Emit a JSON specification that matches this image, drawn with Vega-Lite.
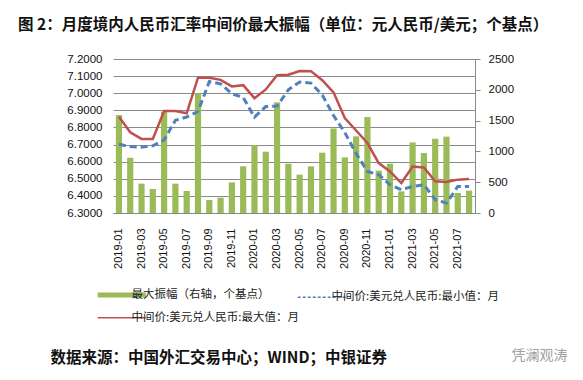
{
  "$schema": "https://vega.github.io/schema/vega-lite/v6.json",
  "width": 362,
  "height": 154,
  "autosize": "none",
  "padding": {"left": 113, "top": 59, "right": 108, "bottom": 167},
  "background": "white",
  "title": {
    "text": "图 2：月度境内人民币汇率中间价最大振幅（单位：元人民币/美元；个基点）",
    "anchor": "start",
    "frame": "group",
    "dx": -95,
    "offset": 20,
    "font": "Noto Sans CJK SC",
    "fontSize": 15.5,
    "fontWeight": "bold",
    "color": "#111"
  },
  "config": {
    "view": {"stroke": null},
    "axis": {"labelFont": "Liberation Sans", "labelColor": "#111"}
  },
  "data": {
    "values": [
      {"month": "2019-01", "amp": 1590, "min": 6.702, "max": 6.862},
      {"month": "2019-02", "amp": 898, "min": 6.688, "max": 6.772},
      {"month": "2019-03", "amp": 476, "min": 6.685, "max": 6.733},
      {"month": "2019-04", "amp": 390, "min": 6.693, "max": 6.733},
      {"month": "2019-05", "amp": 1645, "min": 6.727, "max": 6.896},
      {"month": "2019-06", "amp": 476, "min": 6.842, "max": 6.896},
      {"month": "2019-07", "amp": 357, "min": 6.861, "max": 6.883},
      {"month": "2019-08", "amp": 1943, "min": 6.893, "max": 7.091},
      {"month": "2019-09", "amp": 211, "min": 7.068, "max": 7.091},
      {"month": "2019-10", "amp": 249, "min": 7.055, "max": 7.078},
      {"month": "2019-11", "amp": 497, "min": 6.997, "max": 7.04},
      {"month": "2019-12", "amp": 757, "min": 6.975, "max": 7.047},
      {"month": "2020-01", "amp": 1104, "min": 6.86, "max": 6.971},
      {"month": "2020-02", "amp": 995, "min": 6.922, "max": 7.022},
      {"month": "2020-03", "amp": 1796, "min": 6.925, "max": 7.105},
      {"month": "2020-04", "amp": 800, "min": 7.02, "max": 7.108},
      {"month": "2020-05", "amp": 622, "min": 7.065, "max": 7.13},
      {"month": "2020-06", "amp": 757, "min": 7.059, "max": 7.129},
      {"month": "2020-07", "amp": 979, "min": 6.99, "max": 7.076},
      {"month": "2020-08", "amp": 1373, "min": 6.87, "max": 7.005},
      {"month": "2020-09", "amp": 903, "min": 6.77, "max": 6.855},
      {"month": "2020-10", "amp": 1244, "min": 6.648, "max": 6.782},
      {"month": "2020-11", "amp": 1558, "min": 6.543, "max": 6.709},
      {"month": "2020-12", "amp": 687, "min": 6.524, "max": 6.592},
      {"month": "2021-01", "amp": 800, "min": 6.465, "max": 6.543},
      {"month": "2021-02", "amp": 351, "min": 6.436, "max": 6.475},
      {"month": "2021-03", "amp": 1146, "min": 6.455, "max": 6.572},
      {"month": "2021-04", "amp": 974, "min": 6.465, "max": 6.566},
      {"month": "2021-05", "amp": 1206, "min": 6.378, "max": 6.485},
      {"month": "2021-06", "amp": 1239, "min": 6.358, "max": 6.481},
      {"month": "2021-07", "amp": 325, "min": 6.455, "max": 6.495},
      {"month": "2021-08", "amp": 362, "min": 6.455, "max": 6.499}
    ]
  },
  "encoding": {
    "x": {
      "field": "month",
      "type": "ordinal",
      "sort": null,
      "scale": {"paddingInner": 0.45, "paddingOuter": 0.25},
      "axis": {
        "values": ["2019-01","2019-03","2019-05","2019-07","2019-09","2019-11","2020-01","2020-03","2020-05","2020-07","2020-09","2020-11","2021-01","2021-03","2021-05","2021-07"],
        "labelAngle": -90,
        "labelFontSize": 11,
        "labelPadding": 15,
        "labelOverlap": false,
        "ticks": false,
        "domain": true,
        "domainColor": "#888",
        "title": "数据来源：中国外汇交易中心；WIND；中银证券",
        "titleAngle": 0,
        "titleAlign": "left",
        "titleBaseline": "middle",
        "titleX": -63,
        "titleY": 144,
        "titleFont": "Noto Sans CJK SC",
        "titleFontSize": 15.5,
        "titleFontWeight": "bold",
        "titleColor": "#111"
      }
    }
  },
  "layer": [
    {
      "mark": {"type": "bar"},
      "encoding": {
        "y": {
          "field": "amp",
          "type": "quantitative",
          "scale": {"domain": [0, 2500], "nice": false},
          "axis": {
            "orient": "right",
            "values": [0, 500, 1000, 1500, 2000, 2500],
            "format": "d",
            "labelOverlap": false,
            "grid": false,
            "domain": true,
            "domainColor": "#888",
            "ticks": true,
            "tickColor": "#888",
            "tickSize": 5,
            "labelPadding": 8,
            "labelFontSize": 11.5,
            "title": "凭澜观涛",
            "titleAngle": 0,
            "titleAlign": "left",
            "titleBaseline": "middle",
            "titleX": 36,
            "titleY": 296,
            "titleFont": "Noto Sans CJK SC",
            "titleFontSize": 14,
            "titleFontWeight": "normal",
            "titleColor": "#a0a0a0"
          }
        },
        "color": {
          "datum": "最大振幅（右轴，个基点）",
          "scale": {
            "domain": ["最大振幅（右轴，个基点）", "中间价:美元兑人民币:最小值：月", "中间价:美元兑人民币:最大值：月"],
            "range": ["#9BBB59", "#4F81BD", "#C0504D"]
          },
          "legend": {
            "title": null,
            "values": ["最大振幅（右轴，个基点）", "中间价:美元兑人民币:最大值：月", "中间价:美元兑人民币:最小值：月"],
            "orient": "none",
            "legendX": 3,
            "legendY": 230,
            "columns": 2,
            "columnPadding": -5,
            "rowPadding": 6,
            "symbolType": "stroke",
            "symbolSize": 2312,
            "labelOffset": 4,
            "labelFont": "Noto Sans CJK SC",
            "labelFontSize": 11.5,
            "labelColor": "#222",
            "labelLimit": 400,
            "encode": {
              "symbols": {
                "update": {
                  "fill": {"value": "transparent"},
                  "stroke": {"scale": "color", "field": "value"},
                  "opacity": {"value": 1},
                  "strokeWidth": {"signal": "datum.value === '最大振幅（右轴，个基点）' ? 5 : 1.5"},
                  "strokeDash": {"signal": "datum.value === '中间价:美元兑人民币:最小值：月' ? [3, 2] : [1, 0]"}
                }
              }
            }
          }
        }
      }
    },
    {
      "encoding": {
        "y": {
          "field": "min",
          "type": "quantitative",
          "scale": {"domain": [6.3, 7.2], "nice": false, "zero": false},
          "axis": {
            "values": [6.3, 6.4, 6.5, 6.6, 6.7, 6.8, 6.9, 7.0, 7.1, 7.2],
            "format": ".4f",
            "labelOverlap": false,
            "grid": true,
            "gridColor": "#8a8a8a",
            "gridWidth": 1,
            "domain": false,
            "ticks": false,
            "labelPadding": 11,
            "labelFontSize": 11.5,
            "title": null
          }
        }
      },
      "layer": [
        {
          "mark": {"type": "line", "strokeWidth": 3, "strokeDash": [7, 4]},
          "encoding": {
            "color": {"datum": "中间价:美元兑人民币:最小值：月"}
          }
        },
        {
          "mark": {"type": "line", "strokeWidth": 2.5},
          "encoding": {
            "y": {
              "field": "max",
              "type": "quantitative",
              "scale": {"domain": [6.3, 7.2], "nice": false, "zero": false},
              "axis": {
                "values": [6.3, 6.4, 6.5, 6.6, 6.7, 6.8, 6.9, 7.0, 7.1, 7.2],
                "format": ".4f",
                "labelOverlap": false,
                "grid": true,
                "gridColor": "#8a8a8a",
                "gridWidth": 1,
                "domain": false,
                "ticks": false,
                "labelPadding": 11,
                "labelFontSize": 11.5,
                "title": null
              }
            },
            "color": {"datum": "中间价:美元兑人民币:最大值：月"}
          }
        }
      ]
    }
  ],
  "resolve": {"scale": {"y": "independent"}}
}
